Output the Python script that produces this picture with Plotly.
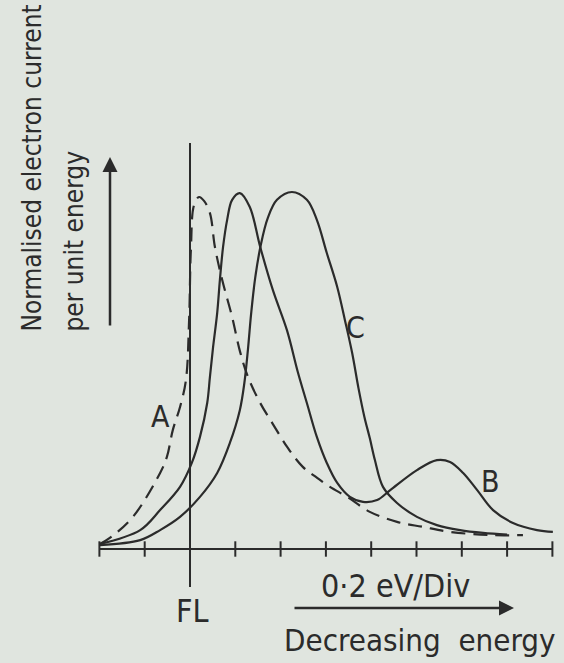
import plotly.graph_objects as go

# ---- data (x in divisions of 0.2 eV from Fermi level, y normalised) ----
ticks = [-2, -1, 0, 1, 2, 3, 4, 5, 6, 7, 8]

a_x = [-1.99, -1.77, -1.26, -0.66, -0.51, -0.38, -0.22, -0.09, -0.02, 0.02, 0.09, 0.20, 0.31, 0.44, 0.55,
       0.71, 0.93, 1.10, 1.28, 1.55, 1.83, 2.16, 2.49, 2.80, 3.09, 3.47, 3.97, 4.57, 5.14, 5.74, 6.62, 7.35]
a_y = [0.014, 0.031, 0.090, 0.213, 0.258, 0.333, 0.398, 0.473, 0.64, 0.84, 0.964, 0.986, 0.975, 0.941, 0.846,
       0.754, 0.650, 0.555, 0.482, 0.409, 0.350, 0.283, 0.230, 0.200, 0.174, 0.146, 0.104, 0.076, 0.062, 0.048, 0.039, 0.039]

b_x = [-1.99, -1.10, -0.66, -0.22, 0.04, 0.22, 0.38, 0.44, 0.51, 0.60, 0.66, 0.73, 0.82, 0.93, 1.10, 1.32,
       1.55, 1.83, 2.14, 2.38, 2.58, 2.80, 3.02, 3.25, 3.53, 3.82, 4.13, 4.42, 5.01, 5.45, 5.74, 6.03, 6.34,
       6.69, 7.13, 7.66, 8.01]
b_y = [0.014, 0.053, 0.109, 0.174, 0.241, 0.314, 0.409, 0.482, 0.566, 0.661, 0.754, 0.846, 0.922, 0.978, 0.997, 0.958,
       0.846, 0.725, 0.613, 0.496, 0.409, 0.314, 0.241, 0.185, 0.146, 0.132, 0.137, 0.165, 0.221, 0.249, 0.244, 0.213, 0.165,
       0.109, 0.073, 0.053, 0.048]

c_x = [-1.99, -1.10, -0.66, -0.22, 0.22, 0.60, 0.88, 1.10, 1.20, 1.28, 1.35, 1.44, 1.56, 1.72, 1.92, 2.25,
       2.58, 2.80, 3.02, 3.25, 3.42, 3.58, 3.72, 3.85, 3.97, 4.08, 4.26, 4.57, 5.01, 5.45, 5.96, 6.47, 7.0]
c_y = [0.011, 0.025, 0.053, 0.090, 0.146, 0.213, 0.297, 0.389, 0.465, 0.560, 0.660, 0.760, 0.850, 0.928, 0.978, 1.0,
       0.978, 0.922, 0.829, 0.734, 0.641, 0.549, 0.450, 0.370, 0.310, 0.250, 0.174, 0.129, 0.090, 0.067, 0.053, 0.045, 0.040]

labels = {"A": (-0.66, 0.37), "B": (6.64, 0.19), "C": (3.66, 0.62)}

# ---- figure geometry (pixels -> data) ----
W, H = 564, 663
X0PX, DIVPX = 190, 45.3
Y0PX, UNITPX = 549, 357
def px2x(p): return (p - X0PX) / DIVPX
def px2y(p): return (Y0PX - p) / UNITPX

INK = "#2b2b2b"
BG = "#e0e5df"
FONT = "Liberation Sans Narrow, DejaVu Sans Condensed, Roboto, sans-serif"
LW = 2.2
SM = 1.0

fig = go.Figure()

# axis line and ticks
fig.add_trace(go.Scatter(x=[ticks[0], ticks[-1]], y=[0, 0], mode="lines",
                         line=dict(color=INK, width=2), hoverinfo="skip", showlegend=False))
fig.add_trace(go.Scatter(x=ticks, y=[0] * len(ticks), mode="markers",
                         marker=dict(symbol="line-ns", size=11, line=dict(color=INK, width=2)),
                         hoverinfo="skip", showlegend=False))

# curves
fig.add_trace(go.Scatter(x=a_x, y=a_y, mode="lines",
                         line=dict(color=INK, width=LW, dash="14px,8px", shape="spline", smoothing=SM),
                         name="A", showlegend=False))
fig.add_trace(go.Scatter(x=b_x, y=b_y, mode="lines",
                         line=dict(color=INK, width=LW, shape="spline", smoothing=SM),
                         name="B", showlegend=False))
fig.add_trace(go.Scatter(x=c_x, y=c_y, mode="lines",
                         line=dict(color=INK, width=LW, shape="spline", smoothing=SM),
                         name="C", showlegend=False))

# Fermi level line
fig.add_shape(type="line", x0=0, x1=0, y0=px2y(587), y1=px2y(143), line=dict(color=INK, width=2))

# curve labels
for k, (lx, ly) in labels.items():
    fig.add_annotation(x=lx, y=ly, text=k, showarrow=False, font=dict(family=FONT, size=30, color=INK))

# FL label
fig.add_annotation(x=px2x(192), y=px2y(611), text="FL", showarrow=False, font=dict(family=FONT, size=32, color=INK))

# energy scale text and arrow
fig.add_annotation(x=px2x(395), y=px2y(586), text="0·2 eV/Div", showarrow=False, font=dict(family=FONT, size=32, color=INK))
fig.add_annotation(x=px2x(514), y=px2y(608), ax=px2x(293), ay=px2y(608), axref="x", ayref="y",
                   text="", showarrow=True, arrowhead=2, arrowsize=1.2, arrowwidth=2.5, arrowcolor=INK)
fig.add_annotation(x=px2x(420), y=px2y(640), text="Decreasing  energy", showarrow=False,
                   font=dict(family=FONT, size=31, color=INK))

# vertical arrow
fig.add_annotation(x=px2x(110), y=px2y(157), ax=px2x(110), ay=px2y(327), axref="x", ayref="y",
                   text="", showarrow=True, arrowhead=2, arrowsize=1.2, arrowwidth=2.5, arrowcolor=INK)

# y label (rotated)
fig.add_annotation(x=px2x(31), y=px2y(334), text="Normalised electron current", showarrow=False,
                   textangle=-90, xanchor="center", yanchor="bottom", font=dict(family=FONT, size=26, color=INK))
fig.add_annotation(x=px2x(73), y=px2y(334), text="per unit energy", showarrow=False,
                   textangle=-90, xanchor="center", yanchor="bottom", font=dict(family=FONT, size=26, color=INK))

fig.update_layout(
    width=W, height=H, margin=dict(l=0, r=0, t=0, b=0),
    paper_bgcolor=BG, plot_bgcolor=BG,
    xaxis=dict(range=[px2x(0), px2x(W)], visible=False, fixedrange=True),
    yaxis=dict(range=[px2y(H), px2y(0)], visible=False, fixedrange=True),
)

fig.write_html("out.html", config={"displayModeBar": False},
               post_script="document.body.style.margin='0';document.body.style.overflow='hidden';")
